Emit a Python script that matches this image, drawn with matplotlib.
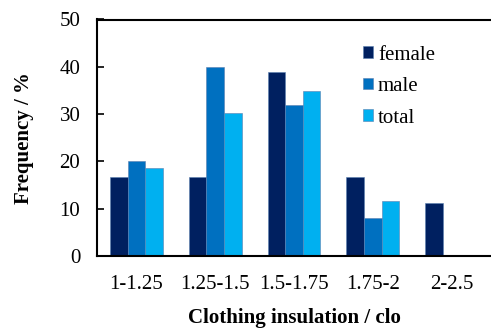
import matplotlib
matplotlib.use("Agg")
import matplotlib.pyplot as plt
import numpy as np

categories = ["1-1.25", "1.25-1.5", "1.5-1.75", "1.75-2", "2-2.5"]
female = [16.7, 16.7, 38.9, 16.7, 11.1]
male = [20.0, 40.0, 32.0, 8.0, 0.0]
total = [18.6, 30.2, 34.9, 11.6, 0.0]
series_names = ["female", "male", "total"]
colors = ["#002060", "#0070C0", "#00B0F0"]
yticks = [0, 10, 20, 30, 40, 50]

plt.rcParams['font.family'] = ['Liberation Serif', 'DejaVu Serif']

fig = plt.figure(figsize=(4.91, 3.29), dpi=100)
ax = fig.add_axes([97/491, 1 - 256/329, (491 - 97)/491, (256 - 19.5)/329])

x = np.arange(len(categories))
w = 0.223
for i, (vals, name, c) in enumerate(zip([female, male, total], series_names, colors)):
    ax.bar(x + (i - 1) * w, vals, width=w, color=c, label=name,
           edgecolor="#5b7fb0", linewidth=0.4)

ax.set_xlim(-0.5, 4.5)
ax.set_ylim(0, 50)
ax.set_yticks(yticks)
ax.set_xticks(x)
ax.set_xticklabels(categories)
ax.tick_params(axis='y', direction='in', length=5, width=1.2, labelsize=15, pad=12)
ax.tick_params(axis='x', length=0, labelsize=15, pad=14)
for s in ['left', 'top', 'bottom']:
    ax.spines[s].set_linewidth(1.5)
ax.spines['right'].set_visible(False)

ax.set_ylabel("Frequency / %", fontsize=15, fontweight='bold', labelpad=18)
ax.set_xlabel("Clothing insulation / clo", fontsize=15, fontweight='bold', labelpad=10)

leg = ax.legend(loc='upper left', bbox_to_anchor=(0.655, 0.925), frameon=False,
                fontsize=15, handlelength=0.48, handleheight=0.48, handletextpad=0.22,
                labelspacing=0.6, borderaxespad=0)

fig.savefig("out.png", dpi=100)
